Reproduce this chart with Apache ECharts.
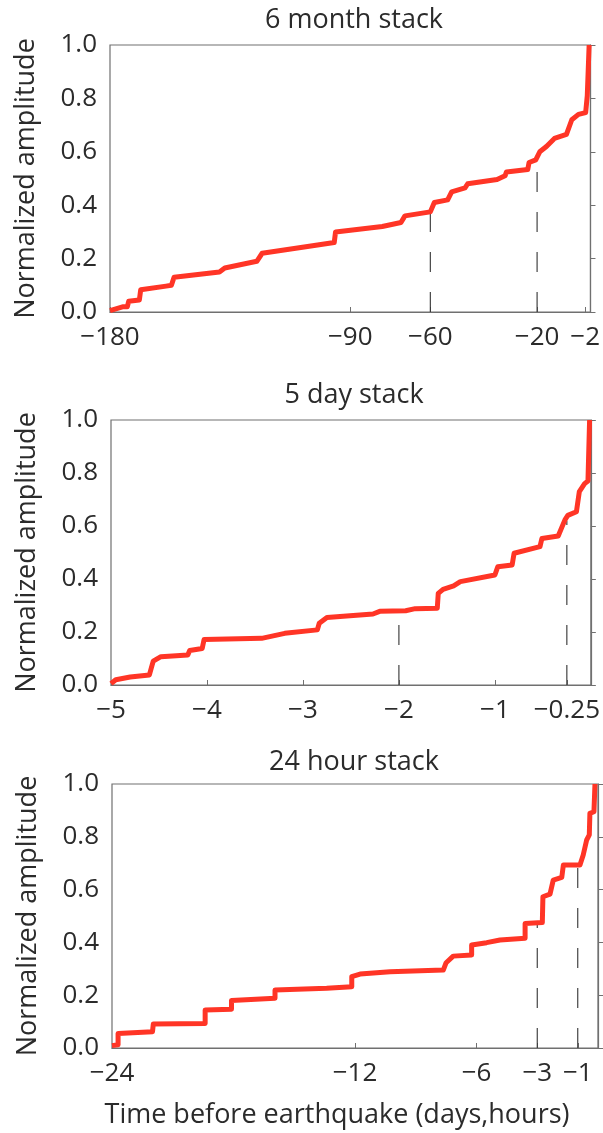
<!DOCTYPE html>
<html>
<head>
<meta charset="utf-8">
<script src="https://cdn.jsdelivr.net/npm/echarts@6/dist/echarts.min.js"></script>
<style>
html,body{margin:0;padding:0;background:#fff;}
#chart{width:603px;height:1133px;}
</style>
</head>
<body>
<div id="chart"></div>
<script>
// ---- Panel titles and axis text ----
const panelTitles = ['6 month stack', '5 day stack', '24 hour stack'];
const yAxisName = 'Normalized amplitude';
const xAxisName = 'Time before earthquake (days,hours)';
const yTicks = [0, 0.2, 0.4, 0.6, 0.8, 1.0];

// ---- Panel 1: 6 month stack (days) ----
const monthRange = [-180, 0];
const monthTicks = [-180, -90, -60, -20, -2];
const monthTimes = [-180, -175, -173.5, -173, -169, -168.5, -159, -157, -156, -139, -137, -125, -123, -106, -96, -95.5, -78, -71, -69.5, -60, -58.5, -53.5, -52, -47, -46, -35, -32, -31.5, -23.5, -23, -20.5, -19, -16.5, -13.5, -9, -7, -4.5, -1.8, -1.2, -0.5];
const monthAmps  = [0.005, 0.02, 0.02, 0.04, 0.045, 0.083, 0.097, 0.10, 0.13, 0.15, 0.165, 0.19, 0.22, 0.245, 0.26, 0.30, 0.32, 0.335, 0.36, 0.375, 0.41, 0.42, 0.45, 0.465, 0.48, 0.496, 0.51, 0.524, 0.534, 0.56, 0.57, 0.60, 0.62, 0.65, 0.665, 0.72, 0.74, 0.747, 0.81, 1.0];
const monthMarkTimes = [-60, -20];
const monthMarkTops  = [0.375, 0.57];

// ---- Panel 2: 5 day stack (days) ----
const dayRange = [-5, 0];
const dayTicks = [-5, -4, -3, -2, -1, -0.25];
const dayTimes = [-5, -4.95, -4.8, -4.6, -4.56, -4.48, -4.2, -4.18, -4.05, -4.03, -3.43, -3.19, -2.85, -2.83, -2.75, -2.27, -2.2, -1.93, -1.83, -1.6, -1.59, -1.54, -1.43, -1.36, -1.0, -0.97, -0.82, -0.8, -0.53, -0.51, -0.34, -0.27, -0.24, -0.15, -0.12, -0.065, -0.03, -0.013];
const dayAmps  = [0.005, 0.02, 0.03, 0.038, 0.09, 0.107, 0.113, 0.13, 0.138, 0.172, 0.176, 0.195, 0.208, 0.233, 0.255, 0.268, 0.278, 0.28, 0.288, 0.29, 0.346, 0.361, 0.374, 0.39, 0.415, 0.446, 0.453, 0.497, 0.522, 0.553, 0.562, 0.623, 0.64, 0.654, 0.73, 0.76, 0.77, 1.0];
const dayMarkTimes = [-2, -0.25];
const dayMarkTops  = [0.283, 0.62];

// ---- Panel 3: 24 hour stack (hours) ----
const hourRange = [-24, 0];
const hourTicks = [-24, -12, -6, -3, -1];
const hourTimes = [-24, -23.7, -23.7, -22, -21.96, -19.4, -19.4, -18.1, -18.1, -15.95, -15.95, -13.4, -12.16, -12.16, -11.75, -10.27, -7.64, -7.5, -7.15, -6.24, -6.24, -5.5, -4.84, -3.6, -3.6, -2.75, -2.72, -2.37, -2.21, -1.79, -1.71, -0.89, -0.73, -0.56, -0.43, -0.4, -0.2, -0.15];
const hourAmps  = [0.009, 0.012, 0.055, 0.062, 0.091, 0.093, 0.144, 0.147, 0.18, 0.188, 0.22, 0.226, 0.232, 0.27, 0.28, 0.289, 0.295, 0.323, 0.348, 0.352, 0.39, 0.399, 0.409, 0.416, 0.472, 0.475, 0.573, 0.583, 0.636, 0.646, 0.693, 0.693, 0.731, 0.788, 0.807, 0.889, 0.895, 1.0];
const hourMarkTimes = [-3, -1];
const hourMarkTops  = [0.47, 0.69];

const panels = [
  {range: monthRange, ticks: monthTicks, t: monthTimes, a: monthAmps, mt: monthMarkTimes, mtop: monthMarkTops},
  {range: dayRange, ticks: dayTicks, t: dayTimes, a: dayAmps, mt: dayMarkTimes, mtop: dayMarkTops},
  {range: hourRange, ticks: hourTicks, t: hourTimes, a: hourAmps, mt: hourMarkTimes, mtop: hourMarkTops}
];

const FONT = '"Open Sans", "Noto Sans", sans-serif';
const TXT = '#2b2b2b';
const FRAME = '#707070';
const RED = '#ff3526';
const TICK_FS = 26;
const NAME_FS = 27;

const gridPos = [
  {left: 110, top: 45, height: 267},
  {left: 111, top: 420, height: 265},
  {left: 112, top: 784, height: 264}
];
const titleTops = [7, 382, 749];

const grids = [], xAxes = [], yAxes = [], series = [], titles = [];
panels.forEach((p, i) => {
  grids.push({left: gridPos[i].left, right: 5, top: gridPos[i].top, height: gridPos[i].height,
    show: true, borderColor: FRAME, borderWidth: 1.2, containLabel: false});
  xAxes.push({
    type: 'value', gridIndex: i, min: p.range[0], max: p.range[1],
    axisLine: {show: true, lineStyle: {color: FRAME, width: 1.2}},
    axisTick: {show: true, inside: true, length: 5, customValues: p.ticks, lineStyle: {color: FRAME}},
    axisLabel: {show: true, customValues: p.ticks, margin: 13, fontFamily: FONT, fontSize: TICK_FS, color: TXT,
      formatter: v => String(v).replace('-', '\u2212')},
    splitLine: {show: false}
  });
  yAxes.push({
    type: 'value', gridIndex: i, min: 0, max: 1, interval: 0.2,
    name: yAxisName, nameLocation: 'middle', nameGap: 70,
    nameTextStyle: {fontFamily: FONT, fontSize: NAME_FS, color: TXT},
    axisLine: {show: true, lineStyle: {color: FRAME, width: 1.2}},
    axisTick: {show: true, inside: true, length: 5, lineStyle: {color: FRAME}},
    axisLabel: {show: true, margin: 13, fontFamily: FONT, fontSize: TICK_FS, color: TXT,
      formatter: v => v.toFixed(1)},
    splitLine: {show: false}
  });
  // dashed marker lines, drawn from the axis up to the curve
  p.mt.forEach((t, k) => {
    series.push({
      type: 'line', xAxisIndex: i, yAxisIndex: i, symbol: 'none', silent: true,
      data: [[t, 0], [t, p.mtop[k]]],
      lineStyle: {color: '#333', width: 1.1, type: [20, 20]}, z: 2
    });
  });
  series.push({
    type: 'line', xAxisIndex: i, yAxisIndex: i, symbol: 'none',
    data: p.t.map((t, k) => [t, p.a[k]]),
    lineStyle: {color: RED, width: 5, join: 'round'}, z: 3
  });
  titles.push({text: panelTitles[i], left: 354, top: titleTops[i], textAlign: 'center', padding: 0,
    textStyle: {fontFamily: FONT, fontSize: NAME_FS, fontWeight: 'normal', color: TXT}});
});
titles.push({text: xAxisName, left: 337, top: 1102, textAlign: 'center', padding: 0,
  textStyle: {fontFamily: FONT, fontSize: NAME_FS, fontWeight: 'normal', color: TXT}});

const chart = echarts.init(document.getElementById('chart'), null, {renderer: 'canvas'});
chart.setOption({
  animation: false,
  backgroundColor: '#fff',
  title: titles,
  grid: grids,
  xAxis: xAxes,
  yAxis: yAxes,
  series: series
});
</script>
</body>
</html>
